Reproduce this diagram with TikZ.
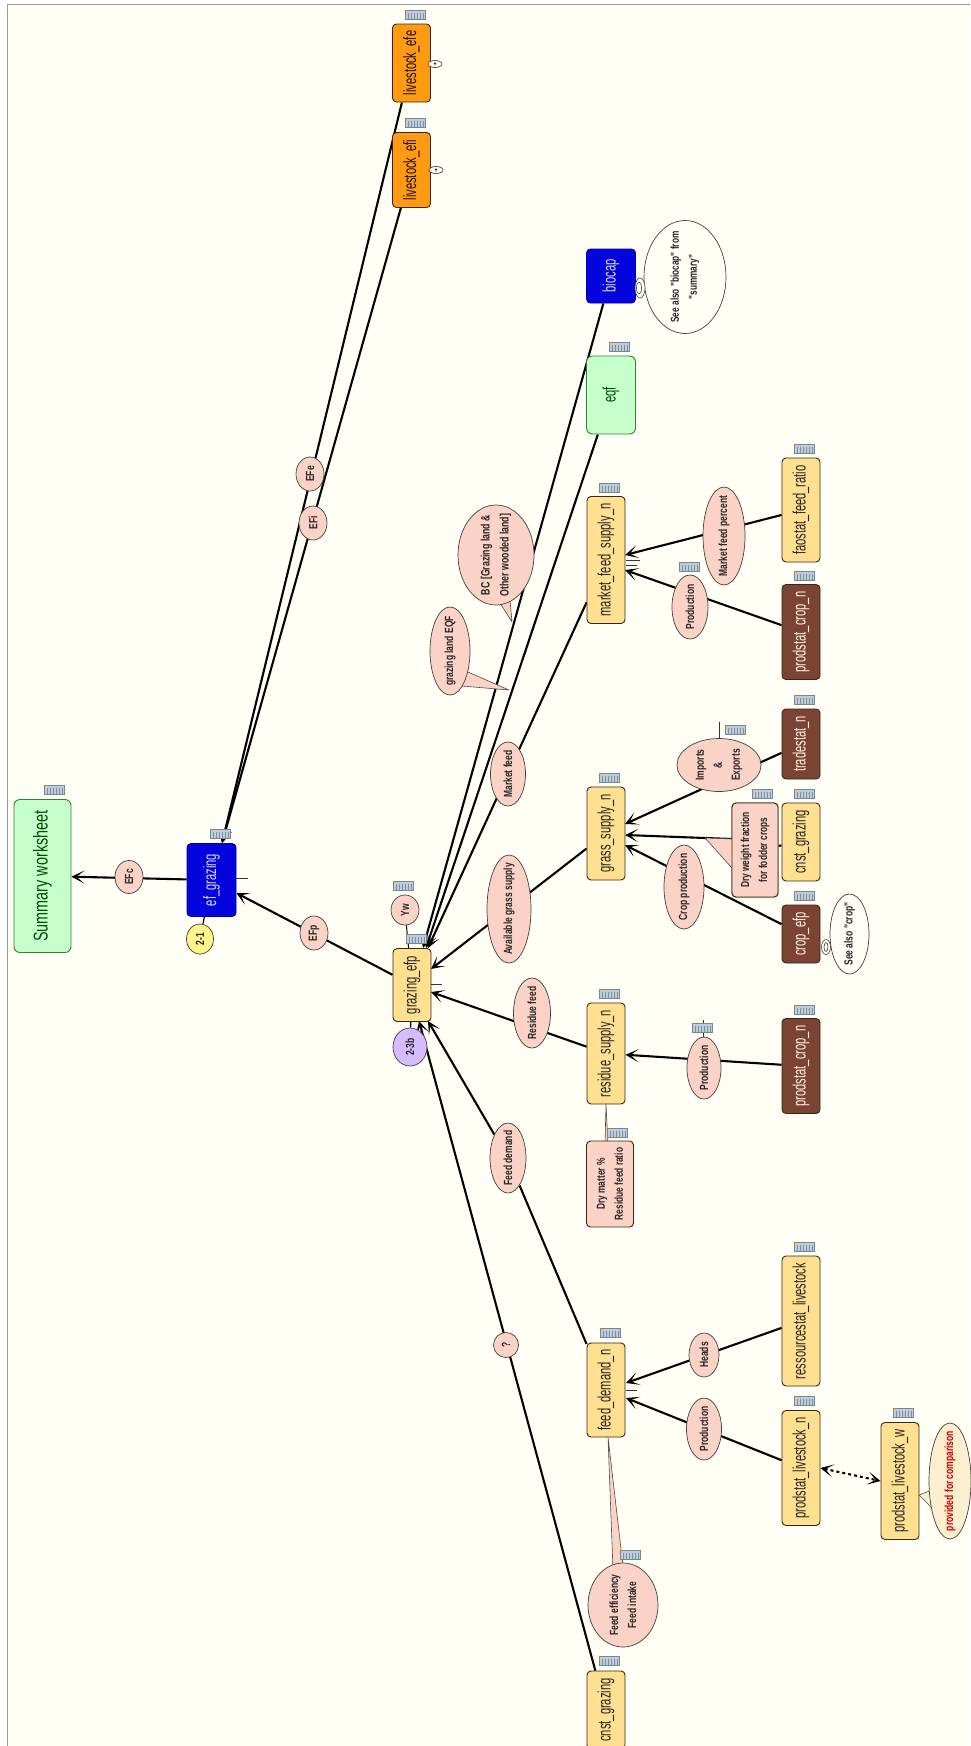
\documentclass[tikz,border=0pt]{standalone}
\usepackage{fontspec}
\setmainfont{Liberation Sans}[FakeStretch=0.72]
\newfontfamily\labelfont{Liberation Sans}[FakeStretch=0.72]
\newfontfamily\boxfont{Liberation Sans}[FakeStretch=0.62]
\usetikzlibrary{shapes.geometric,arrows.meta}
\pgfdeclarelayer{lines}
\pgfsetlayers{lines,main}
\definecolor{paper}{HTML}{FFFFF6}
\definecolor{frameline}{HTML}{9A9A96}
\definecolor{sandbox}{HTML}{FFDF90}
\definecolor{pinkoval}{HTML}{FBD2C6}
\definecolor{mintbox}{HTML}{C6FFCB}
\definecolor{bluebox}{HTML}{0404DC}
\definecolor{brownbox}{HTML}{7B4334}
\definecolor{orangebox}{HTML}{FF9A12}
\definecolor{creamoval}{HTML}{FBEFD0}
\definecolor{tagyellow}{HTML}{FFF38A}
\definecolor{tagviolet}{HTML}{D6BCFF}
\definecolor{iconblue}{HTML}{B8CFE2}
\tikzset{
  sz/.style 2 args={minimum width=#1,minimum height=#2},
  box/.style={rectangle,rounded corners=4pt,rotate=90,draw=black!70!brown,line width=.9pt,
    inner sep=0pt,minimum height=38,font=\boxfont\fontsize{18}{20}\selectfont},
  yellowbox/.style={box,fill=sandbox,text=black!85},
  brownnode/.style={box,fill=brownbox,text=white!90!orange},
  orangenode/.style={box,fill=orangebox,text=black!85!brown,minimum height=38},
  bluenode/.style={box,fill=bluebox,draw=blue!70!black,text=blue!15,minimum height=49},
  mintnode/.style={box,rounded corners=6pt,fill=mintbox,draw=black!50!green!60!gray,text=black!70!green,minimum height=49},
  oval/.style={ellipse,rotate=90,draw=black!75,line width=.7pt,fill=pinkoval,inner xsep=-70pt,inner ysep=-40pt,
    align=center,font=\labelfont\bfseries\fontsize{11.8}{18}\selectfont,text=black!85},
  note/.style={box,fill=pinkoval,align=center,text=black!85,font=\labelfont\bfseries\fontsize{11.6}{18}\selectfont},
  tail/.style={fill=pinkoval,draw=black!70,line width=.6pt,line join=round},
  link/.style={line width=2.1pt,draw=black},
  feed/.style={link,-{Stealth[length=13pt,width=13pt,inset=8pt]}},
  tick/.style={line width=.6pt,draw=black!80},
  tblicon/.pic={
    \fill[iconblue,draw=black!35!iconblue,line width=.4pt] (-10,-4.5) rectangle (10,4.5);
    \foreach \bx in {-7,-4,...,8} \draw[black!45,line width=.6pt] (\bx,-2.5) -- (\bx,3.5);
    \fill[orange!80!red] (-10.5,-5) rectangle (-7,-3.8);
  }
}
\begin{document}
\begin{tikzpicture}[x=1pt,y=-1pt]
\useasboundingbox (0,0) rectangle (970,1746);
\begin{pgfonlayer}{lines}
\fill[white] (0,0) rectangle (970,1746);
\fill[paper] (7,4) rectangle (970,1746);
\draw[frameline,line width=1.2pt] (7.5,1746) -- (7.5,4.5) -- (970,4.5);
\end{pgfonlayer}

% result column
\node[mintnode,sz={153}{57},font=\fontsize{20}{22}\selectfont] (summary) at (42.5,876) {Summary worksheet};
\node[bluenode,sz={73}{49}] (efgrazing) at (211.5,880) {ef\_grazing};
\node[yellowbox,sz={73}{38}] (grazing) at (412,985) {grazing\_efp};
\node[orangenode,sz={78}{38}] (efe) at (411.5,63) {livestock\_efe};
\node[orangenode,sz={75}{38}] (efi) at (411.5,170) {livestock\_efi};

% middle column
\node[bluenode,sz={54}{49}] (biocap) at (611,276) {biocap};
\node[mintnode,sz={78}{49}] (eqf) at (611,395) {eqf};
\node[yellowbox,sz={127}{38}] (marketsupply) at (606,560) {market\_feed\_supply\_n};
\node[yellowbox,sz={93}{38}] (grasssupply) at (606,833.5) {grass\_supply\_n};
\node[yellowbox,sz={101}{38}] (residuesupply) at (606,1053.5) {residue\_supply\_n};
\node[yellowbox,sz={94}{38}] (feeddemand) at (606,1390) {feed\_demand\_n};
\node[yellowbox,sz={78}{38}] (cnstlow) at (606,1710) {cnst\_grazing};

% source column
\node[yellowbox,sz={104}{38}] (faostat) at (801,510) {faostat\_feed\_ratio};
\node[brownnode,sz={95}{38}] (cropmarket) at (801,632) {prodstat\_crop\_n};
\node[brownnode,sz={70}{38}] (tradestat) at (801,744) {tradestat\_n};
\node[yellowbox,sz={78}{38}] (cnsthigh) at (801,842) {cnst\_grazing};
\node[brownnode,sz={58}{38}] (cropefp) at (801,934) {crop\_efp};
\node[brownnode,sz={95}{38}] (cropresidue) at (801,1066) {prodstat\_crop\_n};
\node[yellowbox,sz={130}{38}] (ressource) at (801,1321) {ressourcestat\_livestock};
\node[yellowbox,sz={115}{38}] (livestockn) at (801,1468) {prodstat\_livestock\_n};
\node[yellowbox,sz={117}{38}] (livestockw) at (900,1481) {prodstat\_livestock\_w};

% arrow ends on the box edges
\coordinate (efgrazingtop) at (222,843);
\coordinate (grazingA) at (423,948);
\coordinate (grazingB) at (426,948);
\coordinate (grazingC) at (428,948);
\coordinate (grazingD) at (431,969);
\coordinate (grazingE) at (431,992);
\coordinate (grazingF) at (428,1021);
\coordinate (grazingG) at (419,1021);
\coordinate (marketA) at (625,555);
\coordinate (marketB) at (625,570);
\coordinate (grassA) at (625,824);
\coordinate (grassB) at (625,835);
\coordinate (grassC) at (625,845);
\coordinate (feedA) at (626,1383);
\coordinate (feedB) at (626,1398);
\coordinate (dryout) at (732,839);

% labels on the arrows
\node[oval,sz={33}{28}] (lblefc) at (129,877) {EFc};
\node[oval,sz={34}{28}] (lblefp) at (314,933) {EFp};
\node[oval,sz={34}{28}] (lblefe) at (310,474) {EFe};
\node[oval,sz={34}{28}] (lblefi) at (313,523) {EFi};
\node[oval,sz={64}{35}] (lblmarket) at (508,774) {Market feed};
\node[oval,sz={108}{44}] (lblavail) at (509,909) {Available grass supply};
\node[oval,sz={70}{37}] (lblresidue) at (532,1013) {Residue feed};
\node[oval,sz={70}{36}] (lblfeeddemand) at (508,1158) {Feed demand};
\node[oval,sz={25}{25}] (lblquery) at (506,1345) {?};
\node[oval,sz={98}{42}] (lblpercent) at (724,536) {Market feed percent};
\node[oval,sz={64}{36}] (lblprodmarket) at (690,607) {Production};
\node[oval,sz={53}{84}] (lblimports) at (719,765) {Imports\\\&\\Exports};
\node[oval,sz={84}{40}] (lblcrop) at (684,887) {Crop production};
\node[oval,sz={62}{34}] (lblprodresidue) at (704,1068) {Production};
\node[oval,sz={44}{30}] (lblheads) at (704,1355) {Heads};
\node[oval,sz={62}{35}] (lblprodfeed) at (704,1429) {Production};
\node[note,sz={94}{46}] (lbldry) at (755,850) {Dry weight fraction\\for fodder crops};

% round tags
\node[oval,sz={30}{27},fill=tagyellow] (tagone) at (200,939) {2-1};
\node[oval,sz={38}{34},fill=tagviolet] (tagthree) at (410,1047) {2-3b};
\node[oval,sz={30}{28}] (lblyw) at (405,910) {Yw};

\begin{pgfonlayer}{lines}
\draw[feed] (efgrazing) -- (summary);
\draw[feed] (grazing) -- (efgrazing);
\draw[feed] (efe) -- (efgrazingtop);
\draw[feed] (efi) -- (efgrazingtop);
\draw[feed] (biocap) -- (grazingA);
\draw[feed] (eqf) -- (grazingB);
\draw[feed] (marketsupply) -- (grazingC);
\draw[feed] (grasssupply) -- (grazingD);
\draw[feed] (residuesupply) -- (grazingE);
\draw[feed] (feeddemand) -- (lblfeeddemand) -- (grazingF);
\draw[feed] (cnstlow) -- (grazingG);
\draw[feed] (faostat) -- (marketA);
\draw[feed] (cropmarket) -- (marketB);
\draw[feed] (tradestat) -- (grassA);
\draw[feed] (dryout) -- (grassB);
\draw[feed] (cropefp) -- (grassC);
\draw[feed] (cropresidue) -- (residuesupply);
\draw[feed] (ressource) -- (feedA);
\draw[feed] (livestockn) -- (feedB);
\draw[link] (cnsthigh) -- (lbldry);
\draw[link,line width=1.2pt] (tagone) -- (efgrazing);
\draw[link,line width=1.2pt] (tagthree) -- (grazing);
\draw[link,line width=1pt] (lblyw) -- (grazing);
\draw[feed,dashed,{Stealth[length=13pt,width=13pt,inset=8pt]}-{Stealth[length=13pt,width=13pt,inset=8pt]}] (livestockn.south) -- (livestockw.north);
\end{pgfonlayer}

% notes with a pointer
\draw[tail] (732,839) -- (705,838) -- (732,868);
\node[note,sz={94}{46}] at (lbldry) {Dry weight fraction\\for fodder crops};
\draw[tail] (500,603) -- (512,622) -- (510,600);
\node[oval,sz={100}{76},font=\labelfont\bfseries\fontsize{12.2}{19}\selectfont] (lblbc) at (496,555) {BC [Grazing land \&\\Other wooded land]};
\draw[tail] (468,672) -- (509,690) -- (462,686);
\node[oval,sz={88}{40}] (lbleqf) at (450,651) {grazing land EQF};
\draw[tail] (613,1570) -- (608,1437) -- (623,1566);
\node[oval,sz={84}{70}] (lblefficiency) at (623,1605) {Feed efficiency\\Feed intake};
\draw[tail] (605,1145) -- (606,1104) -- (608,1145);
\node[note,sz={86}{47}] (lbldrymatter) at (610,1184) {Dry matter \%\\Residue feed ratio};
\draw[tail,fill=creamoval] (932,1490) -- (919,1495) -- (936,1512);
\node[oval,sz={116}{42},fill=creamoval,text=red!80!black] (lblcompare) at (950,1481) {provided for comparison};

% white remarks
\node[oval,sz={113}{82},fill=paper,font=\labelfont\bfseries\fontsize{11.5}{18}\selectfont] (seebiocap) at (685,277) {See also "biocap" from\\"summary"};
\node[oval,sz={80}{39},fill=paper] (seecrop) at (849.5,934) {See also "crop"};
\node[ellipse,draw=black!75,line width=.6pt,fill=paper,minimum width=10,minimum height=20,inner sep=0pt] (curlbiocap) at (640,288) {};
\node[ellipse,draw=black!75,line width=.6pt,minimum width=5,minimum height=12,inner sep=0pt] (curlbiocapin) at (639,288) {};
\node[ellipse,draw=black!75,line width=.6pt,fill=paper,minimum width=9,minimum height=15,inner sep=0pt] (curlcrop) at (826,947) {};
\node[ellipse,draw=black!75,line width=.6pt,minimum width=4,minimum height=9,inner sep=0pt] (curlcropin) at (826,947) {};
\node[ellipse,draw=black!80,line width=.6pt,fill=paper,minimum width=14,minimum height=7,inner sep=0pt,font=\fontsize{7}{7}\selectfont\bfseries] (plusefe) at (435,64) {+};
\node[ellipse,draw=black!80,line width=.6pt,fill=paper,minimum width=14,minimum height=7,inner sep=0pt,font=\fontsize{7}{7}\selectfont\bfseries] (plusefi) at (436,170) {+};

\foreach \ax/\ay/\bx/\by in {236/878/248/878,431/984/442/984,626/560/640/560,626/565/637/565,626/1390/637/1390,719/722/719/739,703/1020/703/1037}
  \draw[tick] (\ax,\ay) -- (\bx,\by);

\foreach \ix/\iy in {54/790,220/834,403/886,416/939,415/15,415/123,619/347,609/488,804/449,804/576,689/567,609/778,804/700,735/730,762/794,804/794,804/896,609/994,804/1010,702/1028,617/1133,610/1333,804/1247,804/1401,903/1413,630/1555,609/1661}
  \pic at (\ix,\iy) {tblicon};
\end{tikzpicture}
\end{document}
